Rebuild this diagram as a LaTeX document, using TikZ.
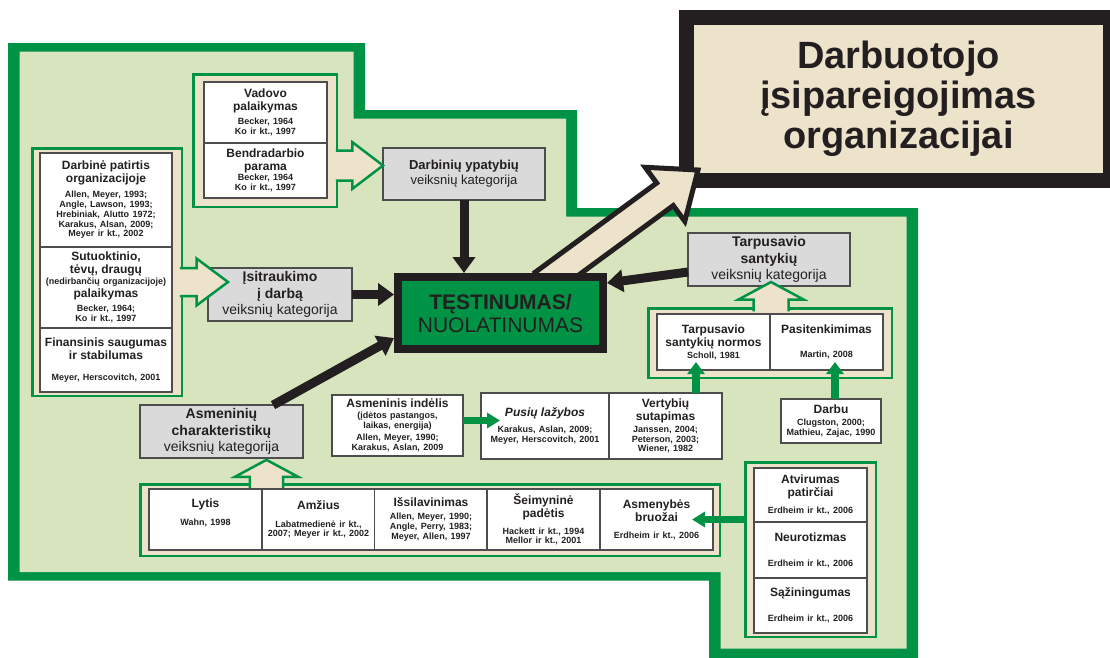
\documentclass[tikz,border=0pt]{standalone}
\usepackage{fontspec}
\setmainfont{Liberation Sans}
\usetikzlibrary{arrows.meta,calc}
\setlength{\parindent}{0pt}

\definecolor{zalia}{HTML}{009245}
\definecolor{sviesi}{HTML}{D7E4BD}
\definecolor{smelis}{HTML}{EDE3CB}
\definecolor{pilka}{HTML}{DADADA}
\definecolor{tamsi}{HTML}{231F20}
\definecolor{remas}{HTML}{4D4D4D}

\newcommand{\antr}[1]{{\fontsize{12}{13}\selectfont\bfseries #1\par}}
\newcommand{\nuor}[1]{{\fontsize{9}{9.8}\selectfont\bfseries #1\par}}
% outline, fill, from, to, half shaft, half head, head length
\newcommand{\platirodykle}[7]{%
  \coordinate (pr-b) at ($(#4)!#7!(#3)$);
  \fill[#2] ($(#3)!#5!90:(#4)$) -- ($(pr-b)!#5!-90:(#3)$) -- ($(pr-b)!#6!-90:(#3)$) -- (#4)
    -- ($(pr-b)!#6!90:(#3)$) -- ($(pr-b)!#5!90:(#3)$) -- ($(#3)!#5!-90:(#4)$) -- cycle;
  \draw[#1] ($(#3)!#5!90:(#4)$) -- ($(pr-b)!#5!-90:(#3)$) -- ($(pr-b)!#6!-90:(#3)$) -- (#4)
    -- ($(pr-b)!#6!90:(#3)$) -- ($(pr-b)!#5!90:(#3)$) -- ($(#3)!#5!-90:(#4)$);}

\tikzset{
  langelis/.style={draw=remas, line width=1.1pt, fill=white, outer sep=0pt, inner sep=1pt, align=center, text=tamsi},
  skydas/.style={draw=zalia, line width=2.5pt, fill=smelis, outer sep=0pt},
  kategorija/.style={draw=remas, line width=1.3pt, fill=pilka, outer sep=0pt, align=center, text=tamsi,
    font=\fontsize{14}{16.5}\selectfont},
  juoda/.style={draw=tamsi, line width=9pt, -{Triangle[width=22pt,length=16pt]}},
  zalia rodykle/.style={draw=zalia, line width=8pt, -{Triangle[width=17pt,length=12pt]}},
  plona rodykle/.style={draw=zalia, line width=7pt, -{Triangle[width=15pt,length=13pt]}},
  plati/.style={draw=zalia, line width=2.5pt}
}

\begin{document}
\begin{tikzpicture}[x=1pt,y=-1pt]
 \useasboundingbox (0,0) rectangle (1110,657);
 \fill[white] (0,0) rectangle (1110,657);
 \fill[zalia] (8,43) -- (365,43) -- (365,110) -- (577,110) -- (577,208) -- (918,208) -- (918,660)
   -- (709,660) -- (709,580.5) -- (8,580.5) -- cycle;
 \fill[sviesi] (19.5,51.5) -- (353.5,51.5) -- (353.5,118.5) -- (566,118.5) -- (566,216.5) -- (906.5,216.5)
   -- (906.5,648.5) -- (720.5,648.5) -- (720.5,572) -- (19.5,572) -- cycle;

 \node[draw=tamsi, line width=15pt, fill=smelis, minimum width=424, minimum height=163, align=center,
   text=tamsi, font=\fontsize{38}{40}\selectfont\bfseries] (darbuotojo) at (898.5,99)
   {Darbuotojo\\įsipareigojimas\\organizacijai};

 \coordinate (centras) at (500.5,313);
 \coordinate (pr1) at ($(centras)+(41,-28)$);
 \coordinate (pr2) at ($(darbuotojo.south west)+(19,-18)$);
 \platirodykle{draw=tamsi, line width=5pt}{smelis}{pr1}{pr2}{14pt}{33.5pt}{41pt}

 \node[draw=tamsi, line width=8pt, fill=zalia, minimum width=205, minimum height=72, align=center,
   text=tamsi, font=\fontsize{21}{23}\selectfont] (testinumas) at (centras)
   {{\bfseries TĘSTINUMAS/}\\NUOLATINUMAS};

 \node[skydas, minimum width=143.5, minimum height=132.5] (vadovoSkydas) at (265,140.5) {};
 \node[langelis, minimum width=123, minimum height=61, text width=119] (vadovo) at (265.5,112.5)
   {\antr{Vadovo\\palaikymas}\vspace{4pt}\nuor{Becker, 1964\\Ko ir kt., 1997}};
 \node[langelis, minimum width=123, minimum height=55, text width=119] (bendradarbio) at (265.5,170.5)
   {\antr{Bendradarbio\\parama}\vspace{0.5pt}\nuor{Becker, 1964\\Ko ir kt., 1997}};

 \node[skydas, minimum width=149.5, minimum height=247.5] (kairysSkydas) at (107,272) {};
 \node[langelis, minimum width=132, minimum height=94, text width=128] (patirtis) at (106,200)
   {\antr{Darbinė patirtis\\organizacijoje}\vspace{5pt}\nuor{Allen, Meyer, 1993;\\Angle, Lawson, 1993;\\Hrebiniak, Alutto 1972;\\Karakus, Alsan, 2009;\\Meyer ir kt., 2002}};
 \node[langelis, minimum width=132, minimum height=81, text width=128] (sutuoktinio) at (106,287.5)
   {\antr{Sutuoktinio,\\tėvų, draugų}\vspace{1pt}\nuor{(nedirbančių organizacijoje)}\antr{palaikymas}\vspace{4pt}\nuor{Becker, 1964;\\Ko ir kt., 1997}};
 \node[langelis, minimum width=132, minimum height=64, text width=128] (finansinis) at (106,360)
   {\antr{Finansinis saugumas\\ir stabilumas}\vspace{11pt}\nuor{Meyer, Herscovitch, 2001}};

 \node[skydas, minimum width=243.5, minimum height=69.5] (santykiuSkydas) at (770,343) {};
 \node[langelis, minimum width=113, minimum height=56, text width=109] (normos) at (713.5,342)
   {\antr{Tarpusavio\\santykių normos}\vspace{2pt}\nuor{Scholl, 1981}};
 \node[langelis, minimum width=113, minimum height=56, text width=109] (pasitenk) at (826.5,342)
   {\antr{Pasitenkimimas}\vspace{14pt}\nuor{Martin, 2008}};

 \node[skydas, minimum width=579.5, minimum height=71.5] (charakSkydas) at (430,520) {};
 \node[langelis, minimum width=113, minimum height=61, text width=109] (lytis) at (205.5,519.5)
   {\antr{Lytis}\vspace{8pt}\nuor{Wahn, 1998}\vspace{14pt}};
 \node[langelis, minimum width=113, minimum height=61, text width=109] (amzius) at (318.5,519.5)
   {\antr{Amžius}\vspace{8pt}\nuor{Labatmedienė ir kt.,\\2007; Meyer ir kt., 2002}};
 \node[langelis, minimum width=113, minimum height=61, text width=109] (issilavinimas) at (431,519.5)
   {\antr{Išsilavinimas}\vspace{3pt}\nuor{Allen, Meyer, 1990;\\Angle, Perry, 1983;\\Meyer, Allen, 1997}};
 \node[langelis, minimum width=113, minimum height=61, text width=109] (seimynine) at (543.5,519.5)
   {\antr{Šeimyninė\\padėtis}\vspace{7pt}\nuor{Hackett ir kt., 1994\\Mellor ir kt., 2001}};
 \node[langelis, minimum width=113, minimum height=61, text width=109] (asmenybes) at (656.5,519.5)
   {\antr{Asmenybės\\bruožai}\vspace{7pt}\nuor{Erdheim ir kt., 2006}};

 \node[skydas, minimum width=130.5, minimum height=174.5] (asmenybesSkydas) at (810.5,549.5) {};
 \node[langelis, minimum width=113, minimum height=54, text width=109] (atvirumas) at (810.5,495)
   {\antr{Atvirumas\\patirčiai}\vspace{7pt}\nuor{Erdheim ir kt., 2006}};
 \node[langelis, minimum width=113, minimum height=56, text width=109] (neurotizmas) at (810.5,550)
   {\antr{Neurotizmas}\vspace{15pt}\nuor{Erdheim ir kt., 2006}};
 \node[langelis, minimum width=113, minimum height=55, text width=109] (saziningumas) at (810.5,605.5)
   {\antr{Sąžiningumas}\vspace{15pt}\nuor{Erdheim ir kt., 2006}};

 \node[kategorija, minimum width=162, minimum height=52, font=\fontsize{13}{15}\selectfont] (darbiniu) at (464,174)
   {{\bfseries Darbinių ypatybių}\\veiksnių kategorija};
 \node[kategorija, minimum width=144, minimum height=53] (isitraukimo) at (280,294.5)
   {{\bfseries Įsitraukimo}\\{\bfseries į darbą}\\veiksnių kategorija};
 \node[kategorija, minimum width=162, minimum height=53] (tarpusavio) at (769,259.5)
   {{\bfseries Tarpusavio}\\{\bfseries santykių}\\veiksnių kategorija};
 \node[kategorija, minimum width=163, minimum height=49] (asmeniniu) at (221.5,431.5)
   {{\bfseries Asmeninių}\\{\bfseries charakteristikų}\\veiksnių kategorija};

 \coordinate (r1a) at ($(vadovoSkydas.east)+(-1,25)$);
 \coordinate (r1b) at ($(darbiniu.west)+(0,-8.5)$);
 \platirodykle{plati}{smelis}{r1a}{r1b}{15pt}{23.3pt}{30.6pt}
 \coordinate (r2a) at ($(kairysSkydas.east)+(-2,10)$);
 \coordinate (r2b) at ($(isitraukimo.west)+(20,-12.5)$);
 \platirodykle{plati}{smelis}{r2a}{r2b}{14pt}{23.5pt}{31.5pt}
 \coordinate (r3a) at ($(santykiuSkydas.north)+(1,3)$);
 \coordinate (r3b) at ($(tarpusavio.south)+(2,-4)$);
 \platirodykle{plati}{smelis}{r3a}{r3b}{17.5pt}{32.5pt}{17.5pt}
 \coordinate (r4a) at ($(asmeniniu.south)+(45,30)$);
 \coordinate (r4b) at ($(asmeniniu.south)+(45,2)$);
 \platirodykle{plati}{smelis}{r4a}{r4b}{16.7pt}{31.7pt}{17pt}

 \node[langelis, minimum width=131, minimum height=61, text width=127] (indelis) at (397.5,425.5)
   {\antr{Asmeninis indėlis}\vspace{1pt}\nuor{(įdėtos pastangos,\\laikas, energija)}\vspace{3pt}\nuor{Allen, Meyer, 1990;\\Karakus, Aslan, 2009}};
 \node[langelis, minimum width=128, minimum height=66, text width=124] (pusiu) at (545,426)
   {{\fontsize{12}{13}\selectfont\bfseries\itshape Pusių lažybos\par}\vspace{6pt}\nuor{Karakus, Aslan, 2009;\\Meyer, Herscovitch, 2001}};
 \node[langelis, minimum width=113, minimum height=66, text width=109] (vertybiu) at (665.5,426)
   {\antr{Vertybių\\sutapimas}\vspace{2pt}\nuor{Janssen, 2004;\\Peterson, 2003;\\Wiener, 1982}};
 \node[langelis, minimum width=100, minimum height=44, text width=96] (darbu) at (831,421)
   {\antr{Darbu}\vspace{2pt}\nuor{Clugston, 2000;\\Mathieu, Zajac, 1990}};

 \draw[juoda] (darbiniu.south) -- (darbiniu.south |- testinumas.north);
 \draw[juoda] (isitraukimo.east) -- (isitraukimo.east -| testinumas.west);
 \draw[juoda] ($(tarpusavio.west)+(0,12.5)$) -- ($(testinumas.north east)+(0,10)$);
 \draw[juoda] ($(asmeniniu.north east)+(-30,0)$) -- ($(testinumas.south west)+(0,-15)$);

 \draw[zalia rodykle, shorten >=-8pt] ($(vertybiu.north)+(30.5,0)$) coordinate (v1) -- (v1 |- normos.south);
 \draw[zalia rodykle, shorten >=-8pt] ($(darbu.north)+(4,0)$) coordinate (d1) -- (d1 |- pasitenk.south);
 \draw[plona rodykle, shorten >=-19pt] ($(indelis.east)+(0,-5)$) coordinate (i1) -- (i1 -| pusiu.west);
 \draw[plona rodykle, shorten >=-21pt] (asmenybesSkydas.west |- asmenybes.east) -- (asmenybes.east);
\end{tikzpicture}
\end{document}
